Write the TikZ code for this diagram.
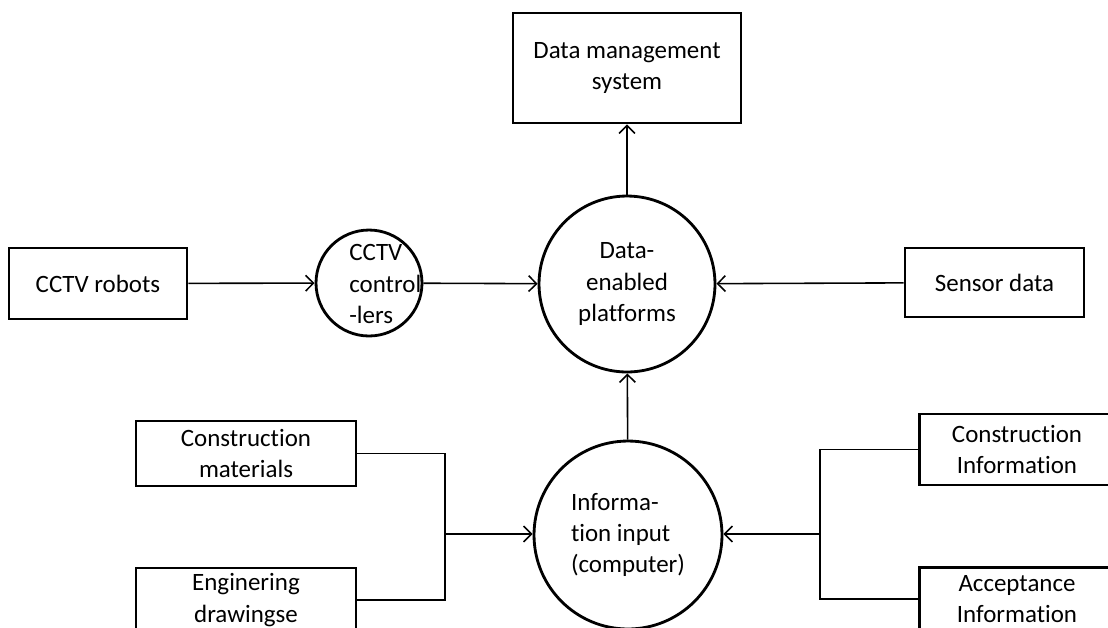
\documentclass[tikz,border=0pt]{standalone}
\usepackage{fontspec}
\setmainfont{Carlito}[Ligatures=NoCommon]
\usepackage{tikz}
\usetikzlibrary{arrows.meta, positioning}

\begin{document}
\begin{tikzpicture}[x=0.02cm, y=-0.02cm,
            font=\fontsize{14.2pt}{17.8pt}\selectfont,
            box/.style={draw, line width=1.6pt, align=center, inner sep=0pt},
            proc/.style={draw, circle, line width=1.6pt, inner sep=0pt},
            flow/.style={line width=0.9pt, -{Straight Barb[length=4.5pt, width=9pt, line width=0.9pt]}},
            link/.style={line width=0.9pt}]
            % page size, boxes at the edges are cut off
            \useasboundingbox (0,0) rectangle (1108,627);
            \clip (0,0) rectangle (1108,627);

            % boxes
            \node[box, minimum width=4.56cm, minimum height=2.2cm] (dms) at (627,68) {Data management\\system};
            \node[box, minimum width=3.56cm, minimum height=1.42cm] (robots) at (98,283.5) {CCTV robots};
            \node[box, minimum width=3.58cm, minimum height=1.38cm] (sensor) at (994.5,282.5) {Sensor data};
            \node[box, minimum width=4.4cm, minimum height=1.3cm] (matl) at (246,453.5) {Construction\\materials};
            \node[box, minimum width=4.4cm, minimum height=1.28cm] (drw) at (246,600) {Enginering\\drawingse};
            \node[box, minimum width=3.9cm, minimum height=1.42cm] (cinfo) at (1017,449.5) {Construction\\Information};
            \node[box, minimum width=3.9cm, minimum height=1.26cm] (ainfo) at (1017,599) {Acceptance\\Information};

            % circles
            \node[proc, minimum size=2.12cm] (ctrl) at (369,283) {};
            \node[align=left, anchor=west, inner sep=0pt] (ctrltxt) at (349,284) {CCTV\\control\\-lers};
            \node[proc, minimum size=3.52cm, align=center] (platf) at (627,284) {Data-\\enabled\\platforms};
            \node[proc, minimum size=3.76cm, align=left] (input) at (628,535) {Informa-\\tion input\\(computer)};

            % junctions
            \coordinate (jl) at (445,534);
            \coordinate (jr) at (820,534);

            % connectors
            \draw[flow] (robots) -- (ctrl);
            \draw[flow] (ctrl) -- (platf);
            \draw[flow] (sensor) -- (platf);
            \draw[flow] (platf) -- (dms);
            \draw[flow] (input) -- (platf);
            \draw[link] (matl.east) -| (jl);
            \draw[link] (drw.east) -| (jl);
            \draw[flow] (jl) -- (jl -| input.west);
            \draw[link] (cinfo.west) -| (jr);
            \draw[link] (ainfo.west) -| (jr);
            \draw[flow] (jr) -- (jr -| input.east);
        \end{tikzpicture}
\end{document}
